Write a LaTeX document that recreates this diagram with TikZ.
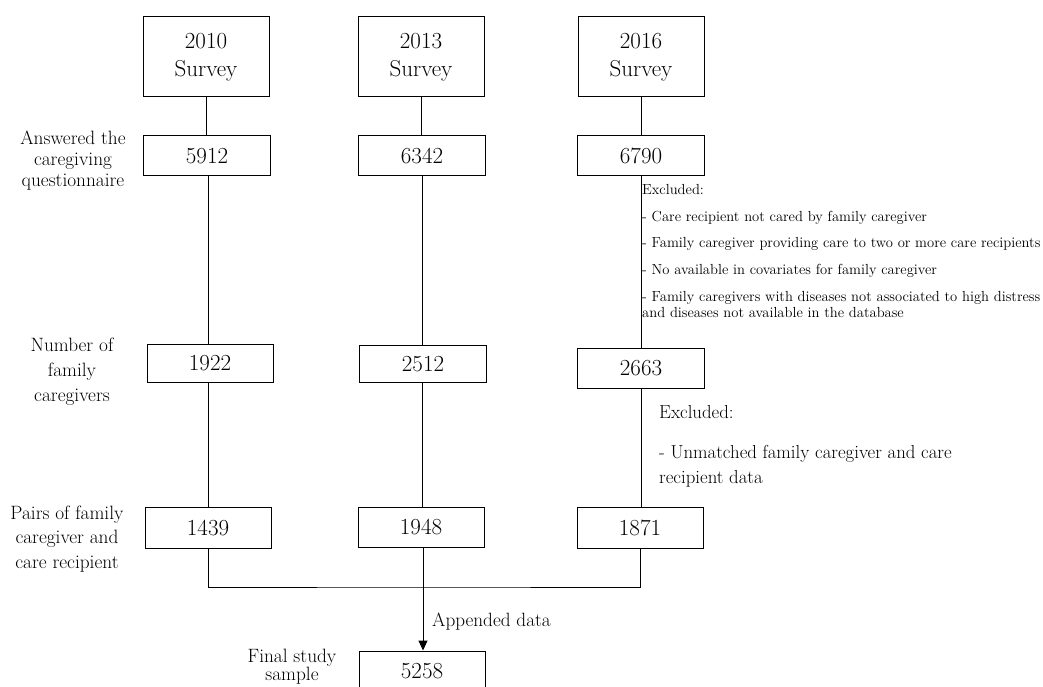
\documentclass[tikz,border=0pt]{standalone}
\usetikzlibrary{arrows.meta}
\begin{document}
\begin{tikzpicture}[x=1pt,y=-1pt,
  box/.style={draw,line width=1pt,inner sep=0pt,minimum width=126pt,font=\fontsize{23}{28}\selectfont,align=center},
  lbl/.style={align=center,inner sep=0pt},
  conn/.style={line width=1pt},
  small/.style={font=\fontsize{14.6}{16}\selectfont,align=left,inner sep=0pt,anchor=north west}]
\clip (0,0) rectangle (1043,687);
\useasboundingbox (0,0) rectangle (1043,687);
% survey boxes
\node[box,minimum height=80pt] (s10) at (206,57) {2010\\Survey};
\node[box,minimum height=80pt] (s13) at (421,57) {2013\\Survey};
\node[box,minimum height=80pt] (s16) at (641,57) {2016\\Survey};
% row 1
\node[box,minimum height=40pt,minimum width=127pt] (a10) at (207,156) {5912};
\node[box,minimum height=40pt,minimum width=127pt] (a13) at (422,156) {6342};
\node[box,minimum height=40pt,minimum width=127pt] (a16) at (641,156) {6790};
% row 2
\node[box,minimum height=38pt] (n10) at (210,363) {1922};
\node[box,minimum height=37pt,minimum width=127pt] (n13) at (423,364) {2512};
\node[box,minimum height=40pt,minimum width=127pt] (n16) at (641,368) {2663};
% row 3
\node[box,minimum height=41pt] (p10) at (208,528) {1439};
\node[box,minimum height=40pt] (p13) at (421,527) {1948};
\node[box,minimum height=41pt] (p16) at (640,528) {1871};
% final
\node[box,minimum height=40pt] (f) at (422,671) {5258};
% connectors
\draw[conn] (s10.south) -- (s10.south |- a10.north);
\draw[conn] (s13.south) -- (s13.south |- a13.north);
\draw[conn] (s16.south) -- (s16.south |- a16.north);
\draw[conn] (p10.south |- a10.south) -- (p10.south |- n10.north);
\draw[conn] (p10.south |- n10.south) -- (p10.north);
\draw[conn] (a13.south) -- (a13.south |- n13.north);
\draw[conn] (n13.south -| a13.south) -- (a13.south |- p13.north);
\draw[conn] (a16.south) -- (a16.south |- n16.north);
\draw[conn] (n16.south) -- (n16.south |- p16.north);
\coordinate (mrg) at (423,587);
\draw[conn] (p10.south) |- (mrg) -| (p16.south);
\draw[conn,-{Triangle[length=10pt,width=9pt]}] (p13.south -| mrg) -- (f.north -| mrg);
% labels
\node[lbl,font=\fontsize{19.3}{21}\selectfont] (la) at (73,161) {Answered the\\caregiving\\questionnaire};
\node[lbl,font=\fontsize{19.3}{25}\selectfont] (ln) at (72,372) {Number of\\family\\caregivers};
\node[lbl,font=\fontsize{19.3}{24.5}\selectfont] (lp) at (67,539) {Pairs of family\\caregiver and\\care recipient};
\node[lbl,font=\fontsize{19.3}{17}\selectfont] (lf) at (292,667) {Final study\\sample};
\node[small] (ex1) at (642,184) {Excluded:\\[10.7pt]
- Care recipient not cared by family caregiver\\[10.7pt]
- Family caregiver providing care to two or more care recipients\\[10.7pt]
- No available in covariates for family caregiver\\[10.7pt]
- Family caregivers with diseases not associated to high distress\\
and diseases not available in the database};
\node[small,font=\fontsize{18.8}{25}\selectfont] (ex2) at (659,405) {Excluded:\\[15pt]
- Unmatched family caregiver and care\\
recipient data};
\node[lbl,anchor=west,font=\fontsize{19.2}{21}\selectfont] (app) at (432,622) {Appended data};
\end{tikzpicture}
\end{document}
